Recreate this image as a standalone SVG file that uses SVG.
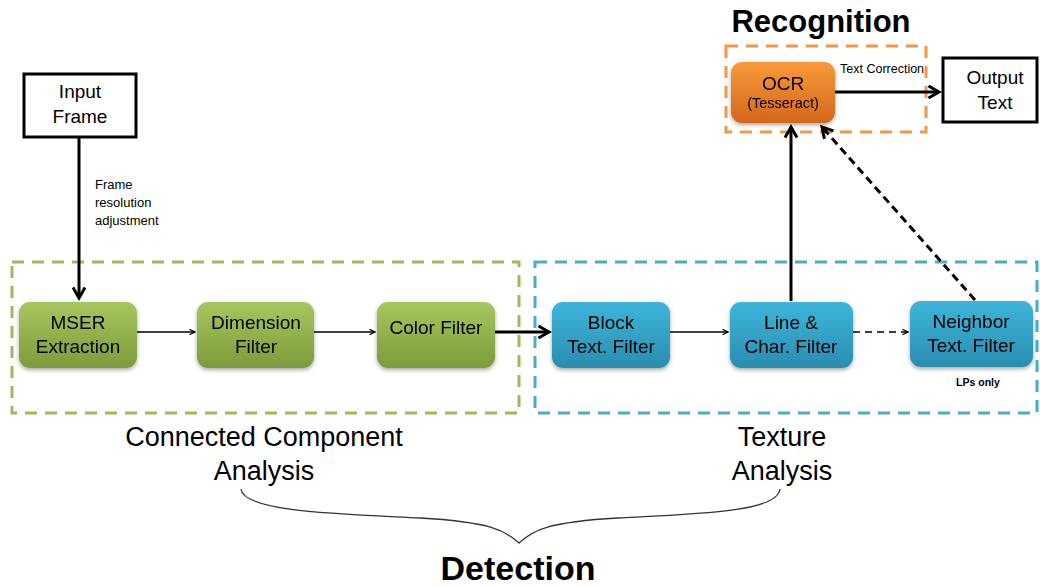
<svg xmlns="http://www.w3.org/2000/svg" width="1040" height="586" viewBox="0 0 1040 586">
  <defs>
    <linearGradient id="gGreen" x1="0" y1="0" x2="0" y2="1">
      <stop offset="0" stop-color="#a6c75e"/>
      <stop offset="1" stop-color="#7c9b3b"/>
    </linearGradient>
    <linearGradient id="gBlue" x1="0" y1="0" x2="0" y2="1">
      <stop offset="0" stop-color="#3db6da"/>
      <stop offset="1" stop-color="#2a8db0"/>
    </linearGradient>
    <linearGradient id="gOrange" x1="0" y1="0" x2="0" y2="1">
      <stop offset="0" stop-color="#f99a3a"/>
      <stop offset="1" stop-color="#d3661a"/>
    </linearGradient>
    <filter id="shadow" x="-20%" y="-20%" width="140%" height="150%">
      <feGaussianBlur in="SourceAlpha" stdDeviation="2"/>
      <feOffset dx="0" dy="2" result="b"/>
      <feComponentTransfer><feFuncA type="linear" slope="0.35"/></feComponentTransfer>
      <feMerge><feMergeNode/><feMergeNode in="SourceGraphic"/></feMerge>
    </filter>
    <marker id="openArrow" viewBox="0 0 10 10" refX="9" refY="5" markerWidth="7" markerHeight="7" markerUnits="userSpaceOnUse" orient="auto">
      <path d="M1,1 L9,5 L1,9" fill="none" stroke="#000" stroke-width="1.6"/>
    </marker>
    <marker id="boldArrow" viewBox="0 0 10 10" refX="8" refY="5" markerWidth="5" markerHeight="5" orient="auto">
      <path d="M1,1 L8,5 L1,9" fill="none" stroke="#000" stroke-width="2"/>
    </marker>
  </defs>
  <style>
    text { font-family: "Liberation Sans", Arial, sans-serif; fill: #000; }
    .lbl { font-size: 19px; text-anchor: middle; }
    .small { font-size: 13px; }
    .title { font-weight: bold; text-anchor: middle; }
    .group { font-size: 27px; text-anchor: middle; }
    .plain { fill: #fff; stroke: #000; stroke-width: 3; }
    .dashG { fill: none; stroke: #9bbb59; stroke-width: 3; stroke-dasharray: 12 8; }
    .dashB { fill: none; stroke: #4bacc6; stroke-width: 3; stroke-dasharray: 12 8; }
    .dashO { fill: none; stroke: #f79646; stroke-width: 3; stroke-dasharray: 12 8; }
    .thin { stroke: #000; stroke-width: 1.5; fill: none; }
    .thick { stroke: #000; stroke-width: 3; fill: none; }
  </style>

  <rect width="1040" height="586" fill="#fff"/>

  <!-- stage frames -->
  <g id="frames">
    <rect class="dashG" x="12" y="262" width="507" height="151"/>
    <rect class="dashB" x="535" y="262" width="502" height="151"/>
    <rect class="dashO" x="726" y="46" width="200" height="86"/>
  </g>

  <!-- headings -->
  <text class="title" x="821" y="32" font-size="31">Recognition</text>
  <text class="group" x="264" y="446">Connected Component</text>
  <text class="group" x="264" y="480">Analysis</text>
  <text class="group" x="782" y="446">Texture</text>
  <text class="group" x="782" y="480">Analysis</text>
  <path d="M241,489 C243,512 340,514 420,518 C490,522 505,530 519,543 C533,530 548,522 618,518 C698,514 778,512 780,489" fill="none" stroke="#333" stroke-width="1.3"/>
  <text class="title" x="518" y="580" font-size="34">Detection</text>

  <!-- connectors -->
  <g id="connectors">
    <line class="thick" x1="79" y1="137" x2="79" y2="298" marker-end="url(#boldArrow)"/>
    <line class="thin" x1="137" y1="332" x2="195" y2="332" marker-end="url(#openArrow)"/>
    <line class="thin" x1="314" y1="332" x2="375" y2="332" marker-end="url(#openArrow)"/>
    <line class="thick" x1="495" y1="332" x2="549" y2="332" marker-end="url(#boldArrow)"/>
    <line class="thin" x1="670" y1="332" x2="728" y2="332" marker-end="url(#openArrow)"/>
    <line class="thin" x1="853" y1="332" x2="908" y2="332" stroke-dasharray="7 5" marker-end="url(#openArrow)"/>
    <line class="thick" x1="791" y1="301" x2="791" y2="127" marker-end="url(#boldArrow)"/>
    <line class="thick" x1="975" y1="300" x2="822" y2="127" stroke-dasharray="8 5" marker-end="url(#boldArrow)"/>
    <line class="thick" x1="835" y1="92" x2="939" y2="92" marker-end="url(#boldArrow)"/>
  </g>
  <text class="small" x="95" y="189">Frame</text>
  <text class="small" x="95" y="207">resolution</text>
  <text class="small" x="95" y="225">adjustment</text>
  <text x="840" y="73" font-size="12.5">Text Correction</text>
  <text x="978" y="386" font-size="10.5" font-weight="bold" text-anchor="middle">LPs only</text>

  <!-- nodes -->
  <g id="input-frame">
    <rect class="plain" x="24" y="74" width="112" height="63"/>
    <text class="lbl" x="80" y="98">Input</text>
    <text class="lbl" x="80" y="123">Frame</text>
  </g>
  <g id="mser" filter="url(#shadow)">
    <rect x="19" y="302" width="118" height="66" rx="11" fill="url(#gGreen)"/>
    <text class="lbl" x="78" y="329">MSER</text>
    <text class="lbl" x="78" y="353">Extraction</text>
  </g>
  <g id="dimension" filter="url(#shadow)">
    <rect x="197" y="302" width="117" height="66" rx="11" fill="url(#gGreen)"/>
    <text class="lbl" x="256" y="329">Dimension</text>
    <text class="lbl" x="256" y="353">Filter</text>
  </g>
  <g id="color-filter" filter="url(#shadow)">
    <rect x="377" y="302" width="118" height="66" rx="11" fill="url(#gGreen)"/>
    <text class="lbl" x="436" y="334">Color Filter</text>
  </g>
  <g id="block" filter="url(#shadow)">
    <rect x="552" y="302" width="118" height="66" rx="11" fill="url(#gBlue)"/>
    <text class="lbl" x="611" y="329">Block</text>
    <text class="lbl" x="611" y="353">Text. Filter</text>
  </g>
  <g id="line-char" filter="url(#shadow)">
    <rect x="730" y="302" width="123" height="66" rx="11" fill="url(#gBlue)"/>
    <text class="lbl" x="791" y="329">Line &amp;</text>
    <text class="lbl" x="791" y="353">Char. Filter</text>
  </g>
  <g id="neighbor" filter="url(#shadow)">
    <rect x="910" y="301" width="123" height="66" rx="11" fill="url(#gBlue)"/>
    <text class="lbl" x="971" y="328">Neighbor</text>
    <text class="lbl" x="971" y="352">Text. Filter</text>
  </g>
  <g id="ocr" filter="url(#shadow)">
    <rect x="731" y="62" width="104" height="61" rx="11" fill="url(#gOrange)"/>
    <text class="lbl" x="783" y="90">OCR</text>
    <text x="783" y="108" font-size="14.5" text-anchor="middle">(Tesseract)</text>
  </g>
  <g id="output-text">
    <rect class="plain" x="943" y="58" width="94" height="64"/>
    <text class="lbl" x="995" y="84">Output</text>
    <text class="lbl" x="995" y="109">Text</text>
  </g>
</svg>
